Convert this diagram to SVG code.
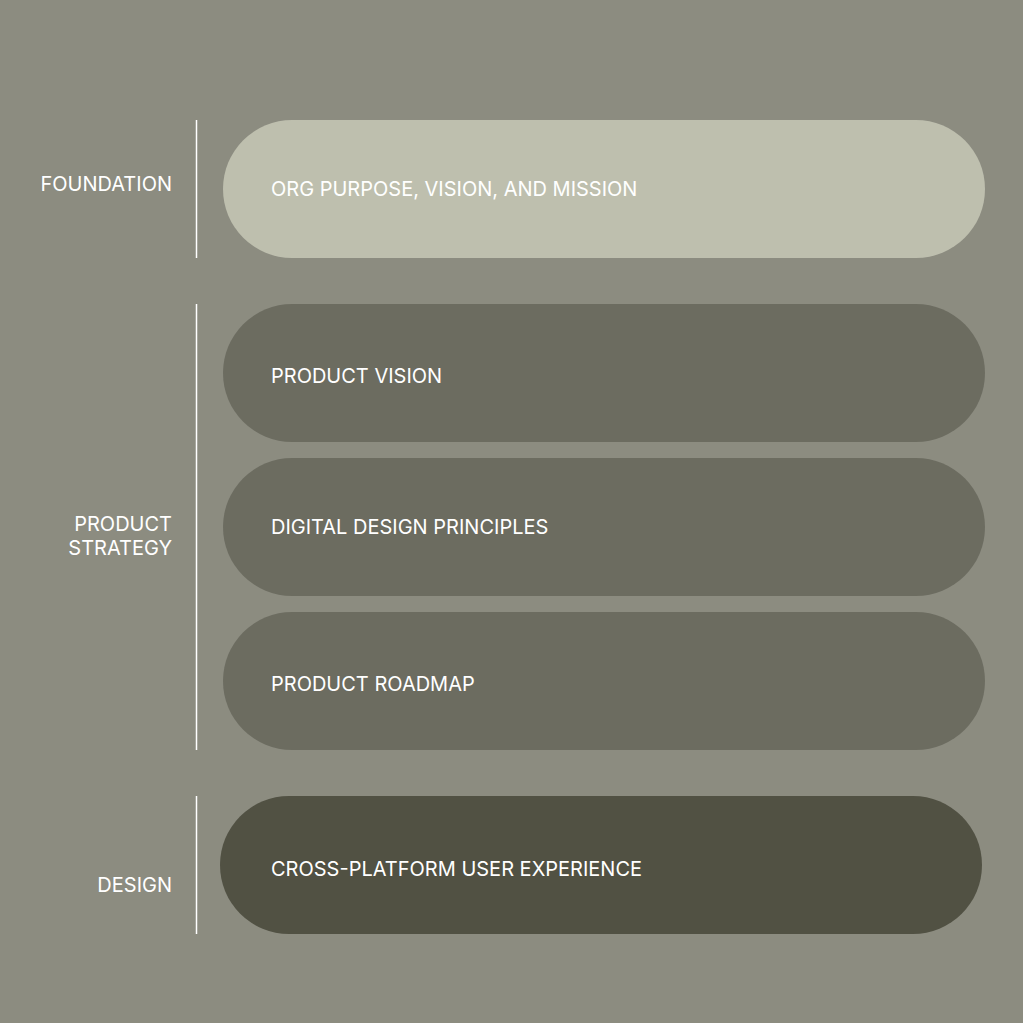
<svg xmlns="http://www.w3.org/2000/svg" width="1023" height="1023" viewBox="0 0 1023 1023">
<style>
.lbl{font-family:Inter,"Liberation Sans",sans-serif;font-size:20px;fill:#ffffff;}
.side{text-anchor:end;}
.rule{stroke:#ffffff;stroke-width:1.5;}
.light{fill:#BEBFAE;}
.mid{fill:#6C6C60;}
.dark{fill:#515143;}
</style>
<rect width="1023" height="1023" fill="#8C8C80"/>
<g id="connectors">
<line class="rule" x1="196.5" y1="120" x2="196.5" y2="258"/>
<line class="rule" x1="196.5" y1="304" x2="196.5" y2="750"/>
<line class="rule" x1="196.5" y1="796" x2="196.5" y2="934"/>
</g>
<g id="label-foundation"><text class="lbl side" x="172" y="191">FOUNDATION</text></g>
<g id="label-product-strategy"><text class="lbl side" x="172" y="531">PRODUCT</text><text class="lbl side" x="172" y="555">STRATEGY</text></g>
<g id="label-design"><text class="lbl side" x="172" y="892">DESIGN</text></g>
<g id="node-org"><rect class="light" x="223" y="120" width="762" height="138" rx="69"/><text class="lbl" x="271" y="196">ORG PURPOSE, VISION, AND MISSION</text></g>
<g id="node-product-vision"><rect class="mid" x="223" y="304" width="762" height="138" rx="69"/><text class="lbl" x="271" y="383">PRODUCT VISION</text></g>
<g id="node-design-principles"><rect class="mid" x="223" y="458" width="762" height="138" rx="69"/><text class="lbl" x="271" y="534">DIGITAL DESIGN PRINCIPLES</text></g>
<g id="node-roadmap"><rect class="mid" x="223" y="612" width="762" height="138" rx="69"/><text class="lbl" x="271" y="691">PRODUCT ROADMAP</text></g>
<g id="node-ux"><rect class="dark" x="220" y="796" width="762" height="138" rx="69"/><text class="lbl" x="271" y="876">CROSS-PLATFORM USER EXPERIENCE</text></g>
</svg>
